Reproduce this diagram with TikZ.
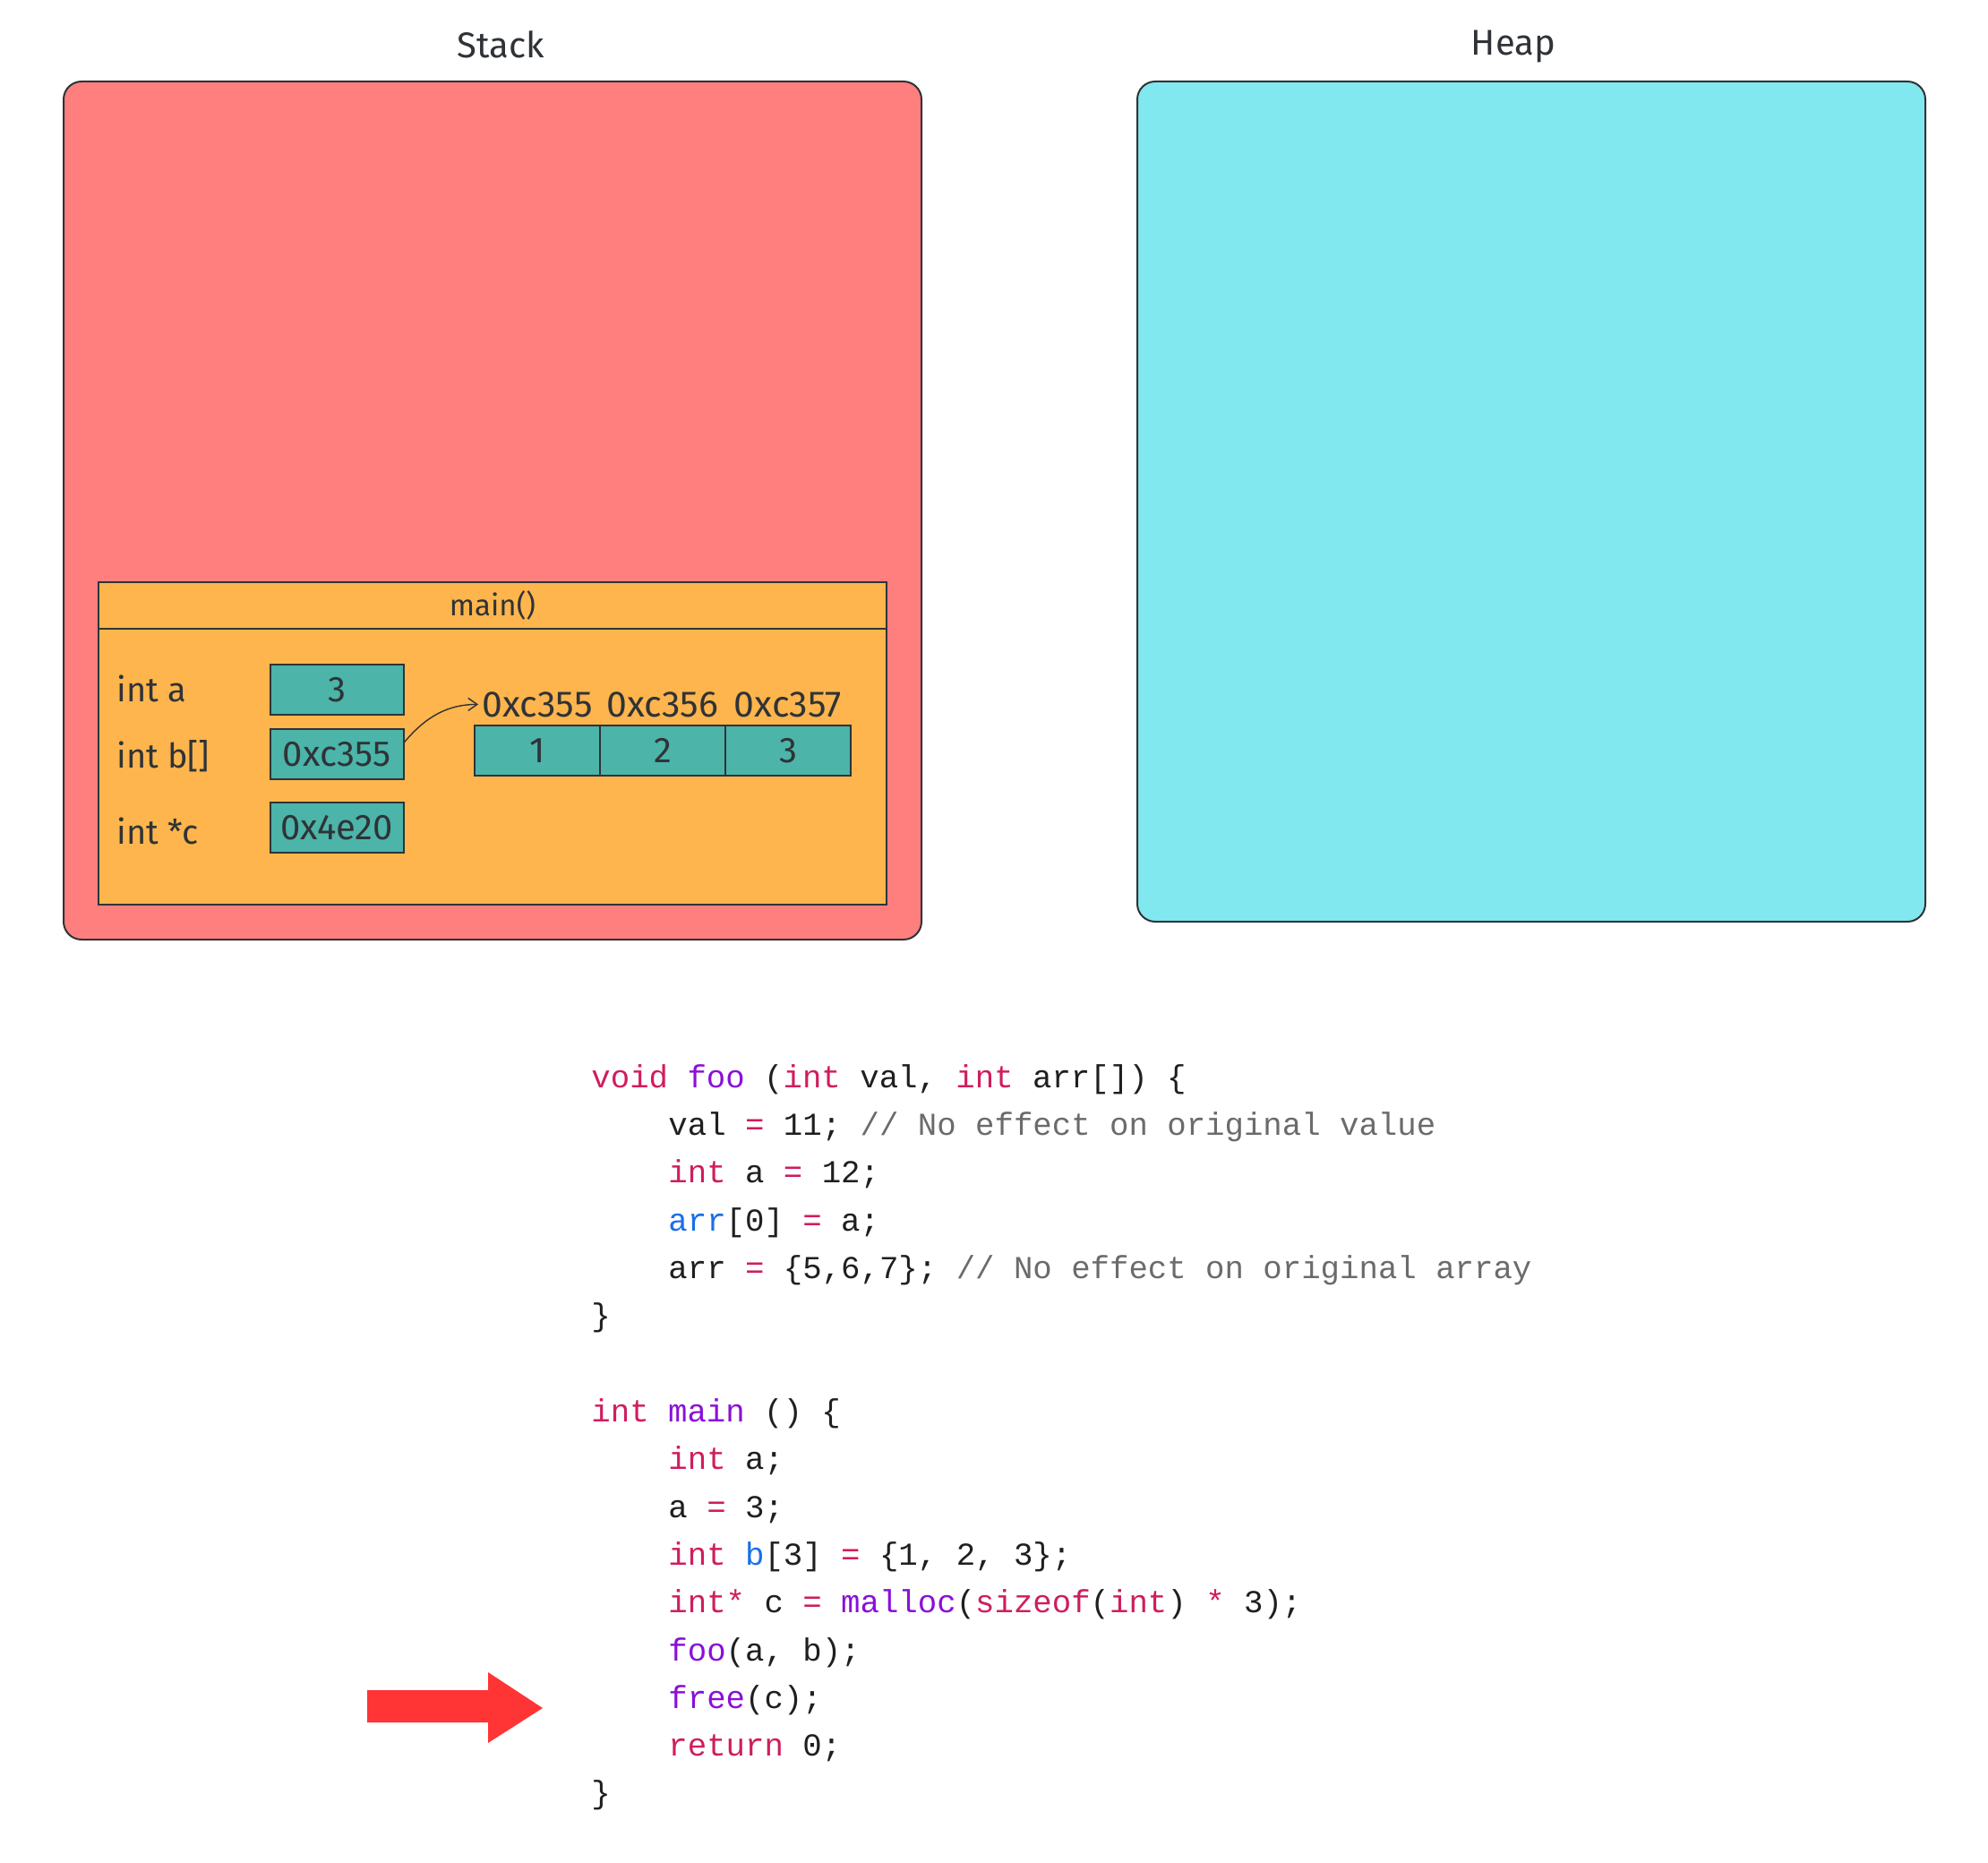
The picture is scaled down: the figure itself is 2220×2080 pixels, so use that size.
\documentclass[tikz,border=0pt]{standalone}
\usepackage{fontspec}
\setmonofont{Liberation Mono}
\newfontfamily\hand{Fira Sans}
\usepackage{tikz}
\usetikzlibrary{positioning,arrows.meta}

\definecolor{stackred}{HTML}{FF7F7F}
\definecolor{heapcyan}{HTML}{82E8EF}
\definecolor{frameorange}{HTML}{FFB54D}
\definecolor{cellteal}{HTML}{4CB4A9}
\definecolor{inkgray}{HTML}{2F3337}
\definecolor{kwred}{HTML}{CF1D5E}
\definecolor{fnpurple}{HTML}{8A10D8}
\definecolor{varblue}{HTML}{1A6FE8}
\definecolor{cmgray}{HTML}{6B6B6B}
\definecolor{codeblack}{HTML}{1F1F1F}
\definecolor{pointerred}{HTML}{FF3535}

\newcommand{\kw}[1]{\textcolor{kwred}{#1}}
\newcommand{\fn}[1]{\textcolor{fnpurple}{#1}}
\newcommand{\vr}[1]{\textcolor{varblue}{#1}}
\newcommand{\cm}[1]{\textcolor{cmgray}{#1}}

\begin{document}
\begin{tikzpicture}[
    x=0.5pt, y=-0.5pt,
    memory/.style={draw=inkgray, line width=1pt, rounded corners=10pt},
    title/.style={font=\hand\fontsize{20}{24}\selectfont, text=inkgray},
    frame/.style={draw=inkgray, fill=frameorange, line width=0.8pt, inner sep=0pt},
    varbox/.style={
        draw=inkgray,
        fill=cellteal,
        line width=1pt,
        minimum width=74.5pt,
        minimum height=28pt,
        inner sep=0pt,
        font=\hand\fontsize{20}{22}\selectfont,
        text=inkgray
    },
    cell/.style={varbox, minimum width=70pt},
    addr/.style={inner sep=0pt, font=\hand\fontsize{20.5}{22}\selectfont, text=inkgray},
    varlbl/.style={anchor=base west, inner sep=0pt, font=\hand\fontsize{19}{22}\selectfont, text=inkgray},
    ptr/.style={-{Straight Barb[length=5pt,width=7pt]}, draw=inkgray, line width=0.7pt, shorten >=2pt},
    codeline/.style={anchor=base west, inner sep=0pt, font=\ttfamily\fontsize{17.85}{20}\selectfont, text=codeblack}
]
\useasboundingbox (0,0) rectangle (2220,2080);

% memory areas
\node[memory, fill=stackred, minimum width=479pt, minimum height=479pt] (stack) at (550,570) {};
\node[memory, fill=heapcyan, minimum width=440pt, minimum height=469pt] (heap) at (1710,560) {};
\node[title] (stacktitle) at (559,50) {Stack};
\node[title] (heaptitle) at (1690,52) {Heap};

% frame of main()
\node[frame, minimum width=440pt, minimum height=154pt] (mainbody) at (550,856) {};
\node[frame, minimum width=440pt, minimum height=26pt, font=\hand\fontsize{16.5}{18}\selectfont, text=inkgray] (mainhead) at (550,676) {main()};

\node[varlbl] (lbla) at (130,783) {int a};
\node[varlbl] (lblb) at (130,857) {int b[]};
\node[varlbl] (lblc) at (130,942) {int *c};

\node[varbox] (boxa) at (376,770) {3};
\node[varbox] (boxb) at (376,842) {0xc355};
\node[varbox] (boxc) at (376,924) {0x4e20};

% array b
\node[cell] (cell1) at (600,838) {1};
\node[cell] (cell2) at (740,838) {2};
\node[cell] (cell3) at (880,838) {3};
\node[addr, above=4pt of cell1] (addr1) {0xc355};
\node[addr, above=4pt of cell2] (addr2) {0xc356};
\node[addr, above=4pt of cell3] (addr3) {0xc357};

\draw[ptr] (boxb.10) to[out=50, in=180] (addr1.west);

% code
\node[codeline] (l0)  at (660,1214) {\kw{void} \fn{foo} (\kw{int} val, \kw{int} arr[]) \{};
\node[codeline] (l1)  at (746,1267) {val \kw{=} 11; \cm{// No effect on original value}};
\node[codeline] (l2)  at (746,1320) {\kw{int} a \kw{=} 12;};
\node[codeline] (l3)  at (746,1374) {\vr{arr}[0] \kw{=} a;};
\node[codeline] (l4)  at (746,1427) {arr \kw{=} \{5,6,7\}; \cm{// No effect on original array}};
\node[codeline] (l5)  at (660,1480) {\}};
\node[codeline] (l7)  at (660,1587) {\kw{int} \fn{main} () \{};
\node[codeline] (l8)  at (746,1640) {\kw{int} a;};
\node[codeline] (l9)  at (746,1694) {a \kw{=} 3;};
\node[codeline] (l10) at (746,1747) {\kw{int} \vr{b}[3] \kw{=} \{1, 2, 3\};};
\node[codeline] (l11) at (746,1800) {\kw{int*} c \kw{=} \fn{malloc}(\kw{sizeof}(\kw{int}) \kw{*} 3);};
\node[codeline] (l12) at (746,1854) {\fn{foo}(a, b);};
\node[codeline] (l13) at (746,1907) {\fn{free}(c);};
\node[codeline] (l14) at (746,1960) {\kw{return} 0;};
\node[codeline] (l15) at (660,2013) {\}};

% current line
\fill[pointerred] (410,1887) -- (545,1887) -- (545,1867) -- (606,1907)
    -- (545,1946) -- (545,1923) -- (410,1923) -- cycle;

\end{tikzpicture}
\end{document}
